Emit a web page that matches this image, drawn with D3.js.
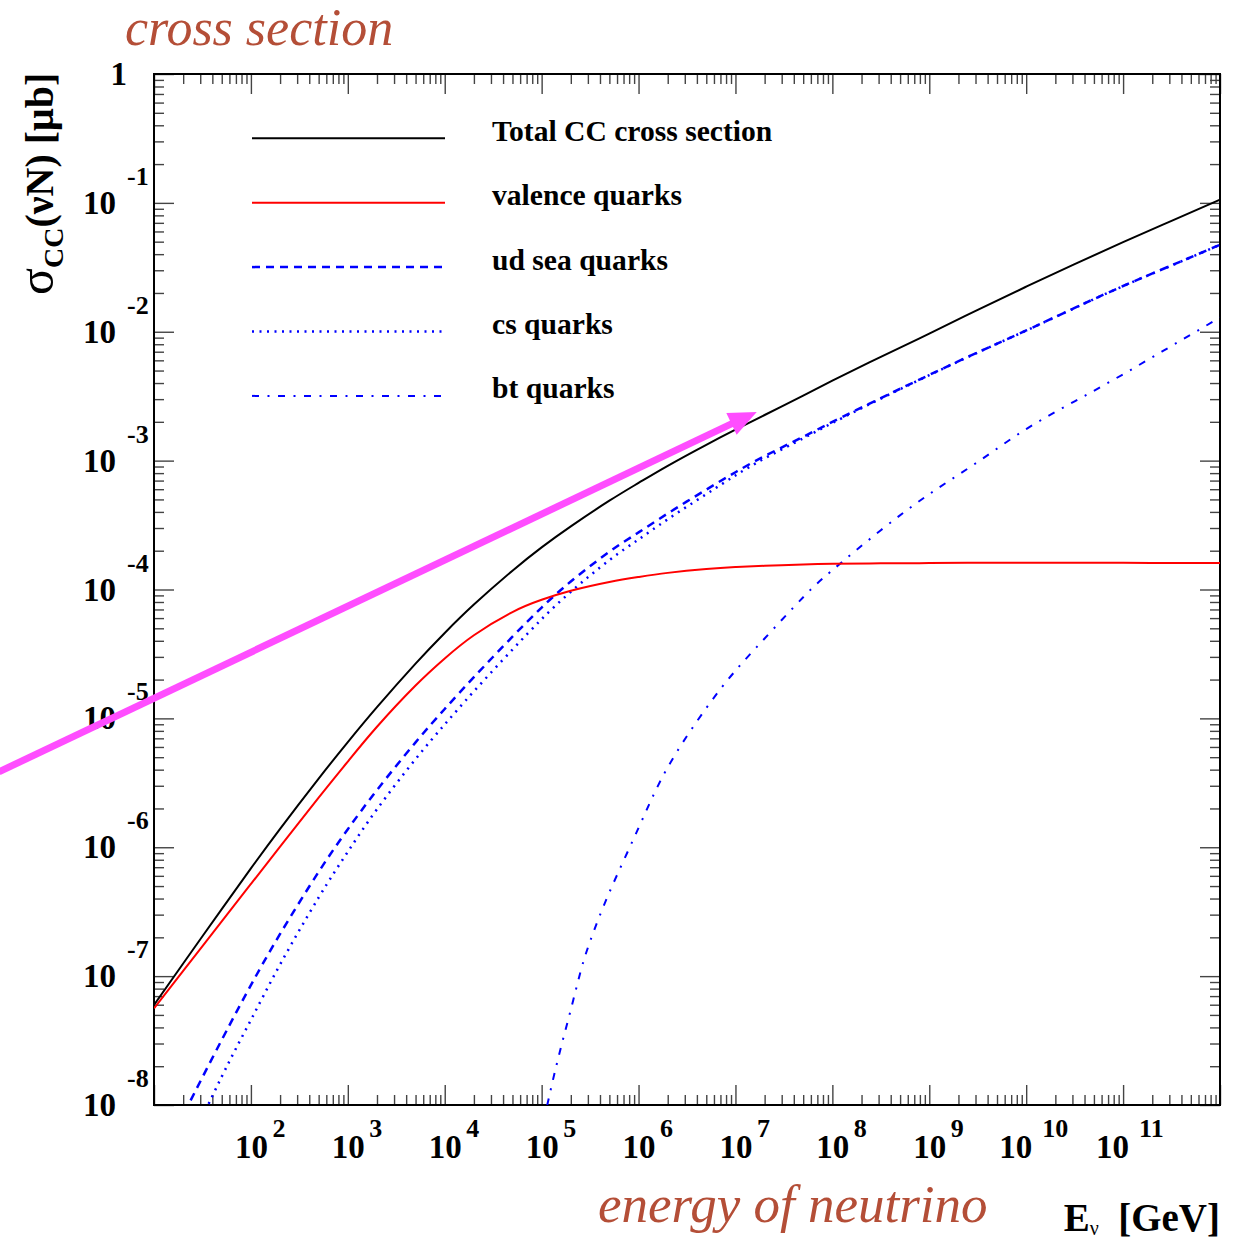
<!DOCTYPE html>
<html>
<head>
<meta charset="utf-8">
<script src="https://cdn.jsdelivr.net/npm/d3@7"></script>
<style>
  body { margin: 0; background: #ffffff; }
  svg { display: block; }
</style>
</head>
<body>
<svg id="chart" width="1247" height="1241"></svg>
<script>
// Neutrino energy grid, log10(E / GeV)
const logEnergy = [1, 1.301, 1.699, 2, 2.301, 2.699, 3, 3.301, 3.699, 4, 4.301, 4.699,
  5, 5.301, 5.699, 6, 6.301, 6.699, 7, 7.301, 7.699, 8, 8.5, 9, 9.5, 10, 10.5, 11, 11.5, 12];

// Charged-current cross sections, log10(sigma / microbarn), on the grid above
const totalCC = [-7.224, -6.902, -6.48, -6.164, -5.857, -5.467, -5.184, -4.913, -4.575, -4.337, -4.117, -3.854,
  -3.673, -3.51, -3.311, -3.173, -3.04, -2.877, -2.76, -2.646, -2.495, -2.38, -2.195, -2.015, -1.83, -1.65, -1.475, -1.305, -1.14, -0.975];
const valence = [-7.25, -6.96, -6.576, -6.285, -5.995, -5.615, -5.335, -5.065, -4.745, -4.535, -4.355, -4.175,
  -4.08, -4.01, -3.942, -3.903, -3.871, -3.841, -3.826, -3.816, -3.806, -3.801, -3.797, -3.795, -3.793, -3.792, -3.792, -3.793, -3.794, -3.794];
const udSea = [-8.55, -8.08, -7.495, -7.07, -6.673, -6.191, -5.86, -5.556, -5.186, -4.927, -4.68, -4.366,
  -4.14, -3.938, -3.707, -3.557, -3.41, -3.225, -3.09, -2.965, -2.815, -2.70, -2.515, -2.335, -2.16, -1.99, -1.815, -1.645, -1.485, -1.325];
const csQuarks = [-8.95, -8.42, -7.78, -7.34, -6.91, -6.39, -6.035, -5.705, -5.316, -5.047, -4.79, -4.466,
  -4.23, -4.018, -3.772, -3.612, -3.455, -3.26, -3.115, -2.983, -2.827, -2.708, -2.519, -2.337, -2.161, -1.991, -1.816, -1.646, -1.486, -1.326];

// The b/t contribution only switches on near 10^5 GeV
const logEnergyBt = [5.0, 5.1, 5.2, 5.301, 5.4, 5.5, 5.699, 6, 6.301, 6.699, 7, 7.301, 7.699,
  8, 8.5, 9, 9.5, 10, 10.5, 11, 11.5, 12];
const btQuarks = [-8.20, -7.86, -7.55, -7.26, -6.97, -6.73, -6.35, -5.85, -5.38, -4.92, -4.63, -4.38, -4.06,
  -3.85, -3.54, -3.26, -3.01, -2.755, -2.54, -2.33, -2.11, -1.89];

// Axis tick labels (powers of ten)
const xLabelExponents = [2, 3, 4, 5, 6, 7, 8, 9, 10, 11];
const yLabelExponents = [0, -1, -2, -3, -4, -5, -6, -7, -8];

// Legend entries
const legendLabels = ["Total CC cross section", "valence quarks", "ud sea quarks", "cs quarks", "bt quarks"];
const legendColors = ["#000000", "#ff0000", "#0000ff", "#0000ff", "#0000ff"];
const legendDashes = [null, null, "8,6", "2,5.5", "7,8.5,2,8.5"];
const legendWidths = [2, 2, 2.5, 2.5, 2];

// Arrow annotation, from/to in (log10 E, log10 sigma)
const arrowFrom = [-0.6, -5.415];
const arrowTo = [7.22, -2.622];

(function draw() {
  const svg = d3.select("#chart");
  const pLeft = 154, pRight = 1220, pTop = 74, pBottom = 1105;

  const x = d3.scaleLog().domain([1e1, 1e12]).range([pLeft, pRight]);
  const y = d3.scaleLog().domain([1e-8, 1]).range([pBottom, pTop]);

  const serif = "'Liberation Serif', 'Times New Roman', Times, serif";
  const annoColor = "#b44e37";

  // ----- ticks -----
  const xMajor = d3.range(1, 13).map(k => Math.pow(10, k));
  const xMinor = [];
  for (let k = 1; k < 12; k++) for (let m = 2; m <= 9; m++) xMinor.push(m * Math.pow(10, k));
  const yMajor = d3.range(-8, 1).map(k => Math.pow(10, k));
  const yMinor = [];
  for (let k = -8; k < 0; k++) for (let m = 2; m <= 9; m++) yMinor.push(m * Math.pow(10, k));

  function tickAxis(axisFn, scale, values, size, transform) {
    const g = svg.append("g").attr("transform", transform)
      .call(axisFn(scale).tickValues(values).tickSize(-size).tickFormat(""));
    g.select(".domain").remove();
    g.selectAll(".tick line").attr("stroke", "#444").attr("stroke-width", 1.4);
    return g;
  }
  tickAxis(d3.axisBottom, x, xMajor, 20, `translate(0,${pBottom})`);
  tickAxis(d3.axisBottom, x, xMinor, 10, `translate(0,${pBottom})`);
  tickAxis(d3.axisTop, x, xMajor, 20, `translate(0,${pTop})`);
  tickAxis(d3.axisTop, x, xMinor, 10, `translate(0,${pTop})`);
  tickAxis(d3.axisLeft, y, yMajor, 20, `translate(${pLeft},0)`);
  tickAxis(d3.axisLeft, y, yMinor, 10, `translate(${pLeft},0)`);
  tickAxis(d3.axisRight, y, yMajor, 20, `translate(${pRight},0)`);
  tickAxis(d3.axisRight, y, yMinor, 10, `translate(${pRight},0)`);

  // ----- frame -----
  svg.append("rect")
    .attr("x", pLeft).attr("y", pTop)
    .attr("width", pRight - pLeft).attr("height", pBottom - pTop)
    .attr("fill", "none").attr("stroke", "#000").attr("stroke-width", 2);

  // ----- tick labels -----
  const xl = svg.append("g").attr("font-family", serif).attr("font-weight", "bold").attr("fill", "#000");
  xLabelExponents.forEach(e => {
    const digits = String(e).length;
    const x0 = x(Math.pow(10, e)) - 16 - 11 * (digits - 1);
    xl.append("text").attr("x", x0).attr("y", pBottom + 53).attr("font-size", 33).text("10");
    xl.append("text").attr("x", x0 + 33 + (digits > 1 ? 10 : 4.5)).attr("y", pBottom + 32)
      .attr("font-size", 26).text(String(e));
  });

  const yl = svg.append("g").attr("font-family", serif).attr("font-weight", "bold").attr("fill", "#000");
  yLabelExponents.forEach(e => {
    const ty = y(Math.pow(10, e));
    if (e === 0) {
      yl.append("text").attr("x", 127).attr("y", ty + 11).attr("text-anchor", "end")
        .attr("font-size", 33).text("1");
    } else {
      yl.append("text").attr("x", 83).attr("y", ty + 11).attr("font-size", 33).text("10");
      yl.append("text").attr("x", 127).attr("y", ty - 18).attr("font-size", 26).text(String(e));
    }
  });

  // ----- curves -----
  svg.append("clipPath").attr("id", "plotArea")
    .append("rect").attr("x", pLeft).attr("y", pTop)
    .attr("width", pRight - pLeft).attr("height", pBottom - pTop);

  const line = d3.line()
    .x(d => x(Math.pow(10, d[0])))
    .y(d => y(Math.pow(10, d[1])))
    .curve(d3.curveNatural);

  const series = [
    { e: logEnergyBt, v: btQuarks, i: 4 },
    { e: logEnergy, v: csQuarks, i: 3 },
    { e: logEnergy, v: udSea, i: 2 },
    { e: logEnergy, v: valence, i: 1 },
    { e: logEnergy, v: totalCC, i: 0 }
  ];
  const curves = svg.append("g").attr("clip-path", "url(#plotArea)");
  series.forEach(s => {
    curves.append("path")
      .datum(s.e.map((le, j) => [le, s.v[j]]))
      .attr("d", line)
      .attr("fill", "none")
      .attr("stroke", legendColors[s.i])
      .attr("stroke-width", legendWidths[s.i])
      .attr("stroke-dasharray", legendDashes[s.i]);
  });

  // ----- legend -----
  const lg = svg.append("g");
  legendLabels.forEach((lab, i) => {
    const ly = 138.3 + i * 64.4;
    lg.append("line").attr("x1", 252).attr("x2", 445).attr("y1", ly).attr("y2", ly)
      .attr("stroke", legendColors[i]).attr("stroke-width", legendWidths[i])
      .attr("stroke-dasharray", legendDashes[i]);
    lg.append("text").attr("x", 492).attr("y", ly + 2.5)
      .attr("font-family", serif).attr("font-weight", "bold").attr("font-size", 29.6)
      .attr("fill", "#000").text(lab);
  });

  // ----- arrow -----
  const ax0 = x(Math.pow(10, arrowFrom[0])), ay0 = y(Math.pow(10, arrowFrom[1]));
  const ax1 = x(Math.pow(10, arrowTo[0])), ay1 = y(Math.pow(10, arrowTo[1]));
  const len = Math.hypot(ax1 - ax0, ay1 - ay0);
  const ux = (ax1 - ax0) / len, uy = (ay1 - ay0) / len;
  const headL = 28, headW = 12;
  const bx = ax1 - headL * ux, by = ay1 - headL * uy;
  const magenta = "#ff4dff";
  svg.append("line").attr("x1", ax0).attr("y1", ay0).attr("x2", bx + 4 * ux).attr("y2", by + 4 * uy)
    .attr("stroke", magenta).attr("stroke-width", 7);
  svg.append("polygon")
    .attr("points", [[ax1, ay1], [bx - headW * uy, by + headW * ux], [bx + headW * uy, by - headW * ux]]
      .map(p => p.join(",")).join(" "))
    .attr("fill", magenta);

  // ----- axis titles -----
  const ytitle = svg.append("text")
    .attr("transform", "translate(53,295) rotate(-90)")
    .attr("font-family", serif).attr("font-weight", "bold").attr("fill", "#000");
  ytitle.append("tspan").attr("font-size", 50).attr("font-weight", "normal").text("σ");
  ytitle.append("tspan").attr("font-size", 28).attr("dy", 10).text("CC");
  ytitle.append("tspan").attr("font-size", 40).attr("dy", -10).text("(νN) [μb]");

  const xtitle = svg.append("text")
    .attr("x", pRight).attr("y", 1231).attr("text-anchor", "end")
    .attr("font-family", serif).attr("font-weight", "bold").attr("fill", "#000");
  xtitle.append("tspan").attr("font-size", 39).text("E");
  xtitle.append("tspan").attr("font-size", 20).attr("dy", 4).attr("font-weight", "normal").text("ν");
  xtitle.append("tspan").attr("font-size", 39).attr("dy", -4).text("\u2002[GeV]");

  // ----- annotations -----
  svg.append("text").attr("x", 125).attr("y", 45)
    .attr("font-family", serif).attr("font-style", "italic").attr("font-size", 52)
    .attr("fill", annoColor).text("cross section");
  svg.append("text").attr("x", 598).attr("y", 1222)
    .attr("font-family", serif).attr("font-style", "italic").attr("font-size", 53)
    .attr("fill", annoColor).text("energy of neutrino");
})();
</script>
</body>
</html>
